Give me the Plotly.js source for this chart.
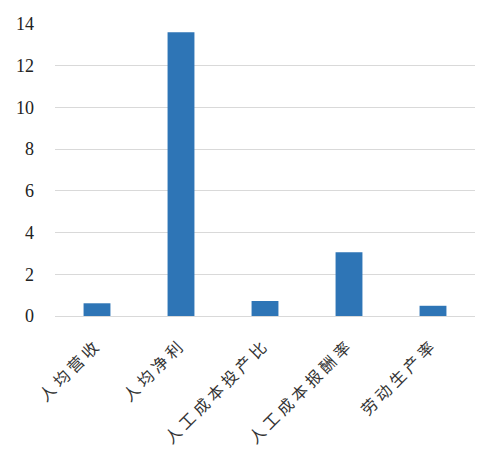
<!DOCTYPE html>
<html>
<head>
<meta charset="utf-8">
<script src="https://cdn.plot.ly/plotly-3.0.1.min.js"></script>
<style>html,body{margin:0;padding:0;background:#fff}#chart{width:500px;height:456px}
.xtick text{letter-spacing:4px}</style>
</head>
<body>
<div id="chart"></div>
<script>
const categories = ["人均营收", "人均净利", "人工成本投产比", "人工成本报酬率", "劳动生产率"];
const values = [0.61, 13.6, 0.72, 3.06, 0.49];
const yTicks = [0, 2, 4, 6, 8, 10, 12, 14];

Plotly.newPlot("chart", [{
  type: "bar",
  x: categories,
  y: values,
  marker: {color: "#2E75B6"},
  width: 0.32,
  hoverinfo: "none"
}], {
  width: 500, height: 456,
  margin: {l: 55, r: 25, t: 24, b: 140},
  paper_bgcolor: "#fff", plot_bgcolor: "#fff",
  showlegend: false,
  font: {family: "Times New Roman, Liberation Serif, DejaVu Serif, serif", color: "#222"},
  xaxis: {
    tickangle: -45,
    tickfont: {size: 16, family: "Noto Sans CJK SC, sans-serif", color: "#333"},
    showgrid: false,
    showline: true, linecolor: "#d9d9d9", linewidth: 1,
    ticks: "",
    ticklabelstandoff: 12
  },
  yaxis: {
    range: [0, 14],
    tickvals: yTicks,
    ticktext: yTicks.map(String),
    tickfont: {size: 18, family: "Times New Roman, Liberation Serif, DejaVu Serif, serif", color: "#222"},
    showgrid: true, gridcolor: "#d9d9d9", gridwidth: 1,
    zeroline: false, showline: false, ticks: "",
    ticklabelstandoff: 20
  }
}, {displayModeBar: false, staticPlot: true});
</script>
</body>
</html>
